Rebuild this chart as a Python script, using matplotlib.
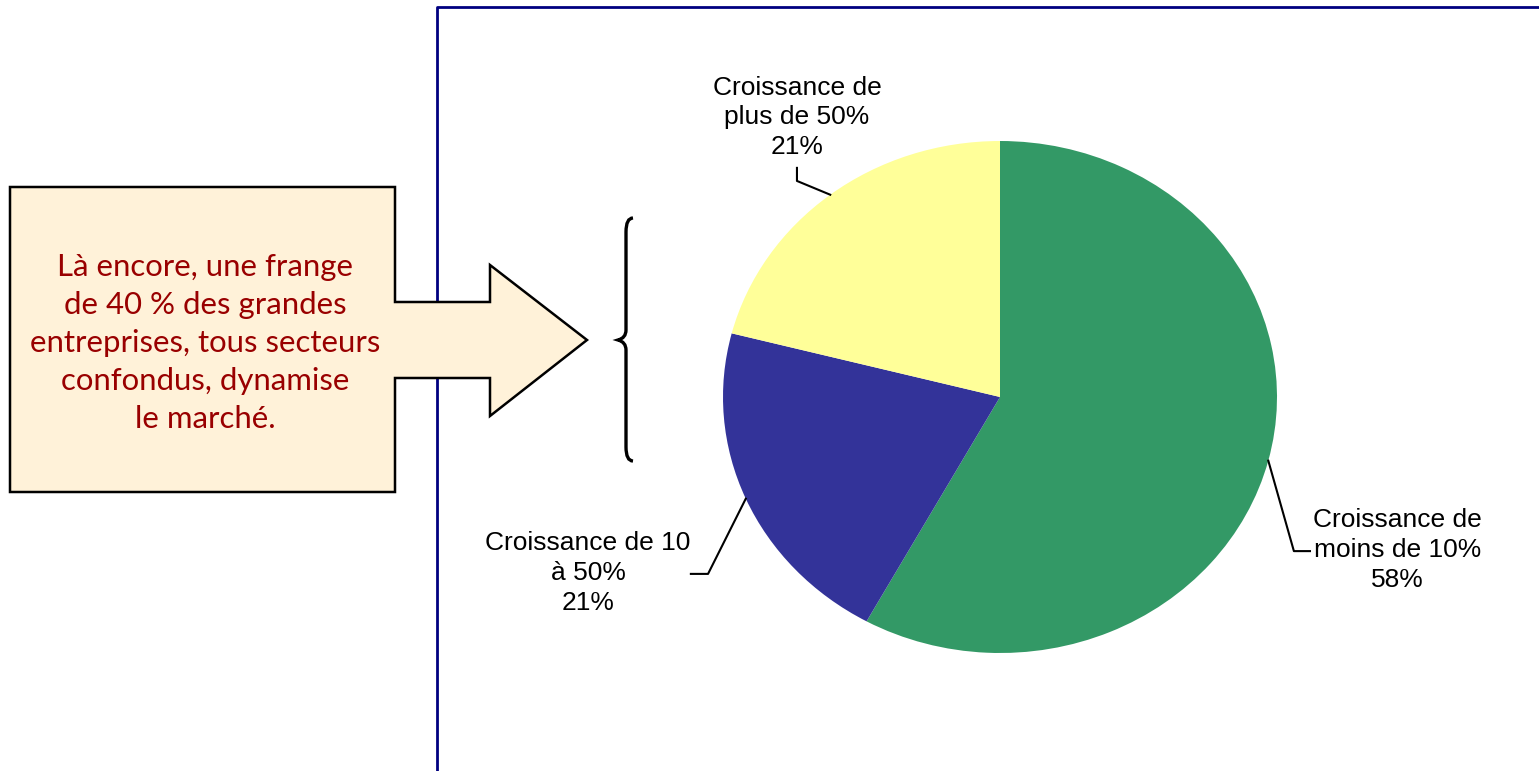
import numpy as np
import matplotlib
matplotlib.use('Agg')
import matplotlib.pyplot as plt
from matplotlib.patches import Polygon, PathPatch
from matplotlib.path import Path

# pie data, clockwise from 12 o'clock
labels = ['Croissance de\nmoins de 10%', 'Croissance de 10\nà 50%', 'Croissance de\nplus de 50%']
values = [58, 21, 21]
colors = ['#339966', '#333399', '#FFFF99']

# leader line elbow / end and text centre for each label (pie axes units)
elbows = [(1.061, -0.602), (-1.054, -0.691), (-0.733, 0.844)]
ends = [(1.119, -0.602), (-1.116, -0.691), (-0.733, 0.895)]
text_pos = [(1.436, -0.598), (-1.487, -0.688), (-0.733, 1.092)]

callout = 'Là encore, une frange\nde 40 % des grandes\nentreprises, tous secteurs\nconfondus, dynamise\nle marché.'

W, H = 1539, 771
fig = plt.figure(figsize=(W/100, H/100), dpi=100)
fig.patch.set_facecolor('white')

# overlay axes in pixel coordinates for the decorations
ax0 = fig.add_axes([0, 0, 1, 1])
ax0.set_xlim(0, W)
ax0.set_ylim(H, 0)
ax0.axis('off')

# blue frame of the chart area
ax0.plot([437, 437, W], [H, 7, 7], color='#000080', lw=2.0, zorder=1)

# callout box + arrow as one outline
shape = [(10, 187), (395, 187), (395, 302), (490, 302), (490, 265), (587, 340),
		 (490, 416), (490, 378), (395, 378), (395, 492), (10, 492)]
ax0.add_patch(Polygon(shape, closed=True, fc='#FFF2D9', ec='black', lw=1.8, zorder=2))
ax0.text(205, 343, callout, ha='center', va='center', color='#990000',
		 fontsize=22.4, family='Lato', linespacing=1.43, zorder=3)

# curly brace
verts = [(633, 218), (626, 218), (626, 232), (626, 232),
		 (626, 330), (626, 338), (618, 340),
		 (626, 342), (626, 350),
		 (626, 447), (626, 461), (633, 461)]
codes = [Path.MOVETO, Path.CURVE3, Path.CURVE3, Path.LINETO,
		 Path.LINETO, Path.CURVE3, Path.CURVE3,
		 Path.CURVE3, Path.CURVE3,
		 Path.LINETO, Path.CURVE3, Path.CURVE3]
ax0.add_patch(PathPatch(Path(verts, codes), fc='none', ec='black', lw=2.4, zorder=3))

# pie axes: stretched so the pie is a slightly flat ellipse
ax = fig.add_axes([723/W, (H-653)/H, 554/W, 512/H])
wedges, _ = ax.pie(values, colors=colors, startangle=90, counterclock=False, radius=1)
ax.set_aspect('auto')
ax.set_xlim(-1, 1)
ax.set_ylim(-1, 1)

for w, lab, v, el, en, tp in zip(wedges, labels, values, elbows, ends, text_pos):
	mid = np.deg2rad((w.theta1 + w.theta2) / 2)
	x0, y0 = np.cos(mid), np.sin(mid)
	ax.plot([x0, el[0], en[0]], [y0, el[1], en[1]], color='black', lw=1.5, clip_on=False)
	ax.text(tp[0], tp[1], '%s\n%d%%' % (lab, v), ha='center', va='center',
			fontsize=19, family='Liberation Sans', linespacing=1.31)

fig.savefig('out.png', dpi=100)
